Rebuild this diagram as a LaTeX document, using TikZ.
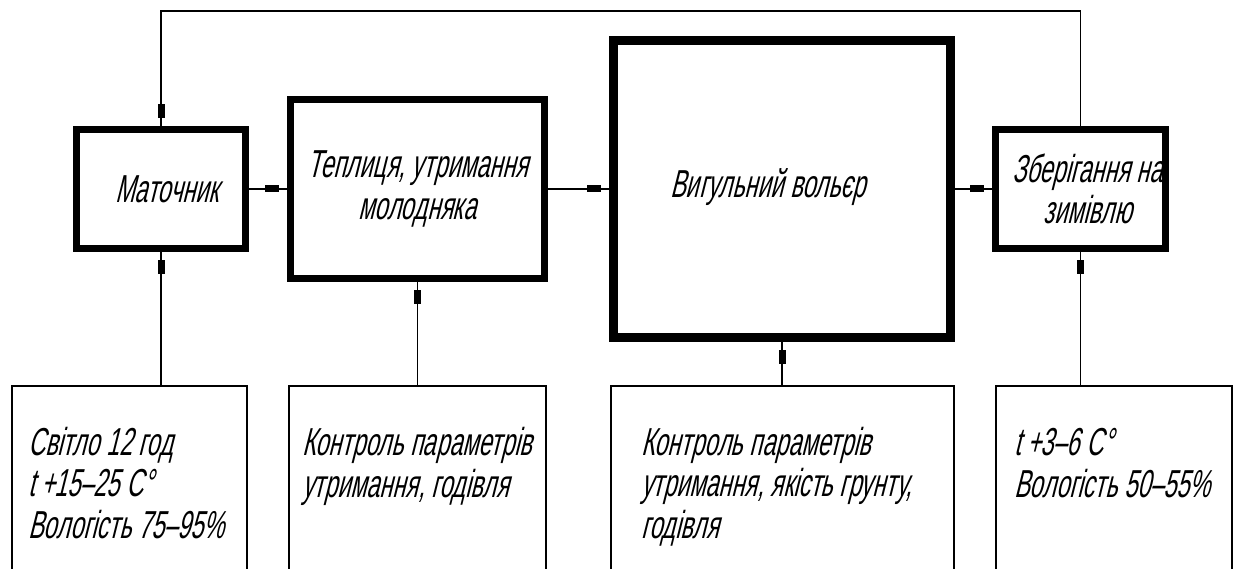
\documentclass[tikz,border=0pt]{standalone}
\usepackage{fontspec}
\newfontfamily\gostfont{Liberation Sans}[FakeStretch=0.6,FakeSlant=0.25]
\usetikzlibrary{arrows.meta,decorations.markings}

\tikzset{
	block/.style={draw, line width=7pt, align=center, inner sep=0pt},
	note/.style={draw, line width=1.6pt, minimum height=214pt, inner sep=0pt},
	txt/.style={align=left, anchor=base west, inner sep=0pt},
	flow/.style={line width=1.5pt, postaction={decorate},
		decoration={markings, mark=at position -8pt with {\arrow{Rectangle[length=14pt,width=7pt]}}}}
}

\begin{document}
\begin{tikzpicture}[x=1pt,y=-1pt,font=\gostfont\fontsize{39}{41.5}\selectfont]
		\useasboundingbox (0,0) rectangle (1237,569);
		\node[block, minimum width=169pt, minimum height=119pt] (mat) at (161,189) {\hspace*{12pt}Маточник};
		\node[block, minimum width=254pt, minimum height=179pt] (tep) at (417.5,189) {Теплиця, утримання\\молодняка};
		\node[block, line width=9pt, minimum width=337pt, minimum height=297pt] (vol) at (782,189) {\raisebox{12pt}{Вигульний вольєр}\hspace*{28pt}};
		\node[block, minimum width=170pt, minimum height=119pt] (zb) at (1080.5,189) {\hspace*{14pt}Зберігання на\\\hspace*{14pt}зимівлю};
		\foreach \n/\x/\w in {na/129.5/235pt, nb/417.5/257pt, nc/782.5/343pt, nd/1114/236pt}
			\node[note, minimum width=\w] (\n) at (\x,493) {};
		\node[txt] (ta) at (28,538) {Світло 12 год\\t +15–25 C°\\Вологість 75–95\%};
		\node[txt] (tb) at (302,497) {Контроль параметрів\\утримання, годівля};
		\node[txt] (tc) at (641,538) {Контроль параметрів\\утримання, якість грунту,\\годівля};
		\node[txt] (td) at (1014,497) {t +3–6 C°\\Вологість 50–55\%};
		\coordinate (top) at (0,11);
		\draw[flow] (mat) -- (tep);
		\draw[flow] (tep) -- (vol);
		\draw[flow] (vol.east |- zb.west) -- (zb);
		\draw[flow] (zb.north) -- (zb.north |- top) -| (mat.north);
		\foreach \a/\b in {mat/na, tep/nb, vol/nc, zb/nd}
			\draw[flow] (\a.south |- \b.north) -- (\a.south);
	\end{tikzpicture}
\end{document}
